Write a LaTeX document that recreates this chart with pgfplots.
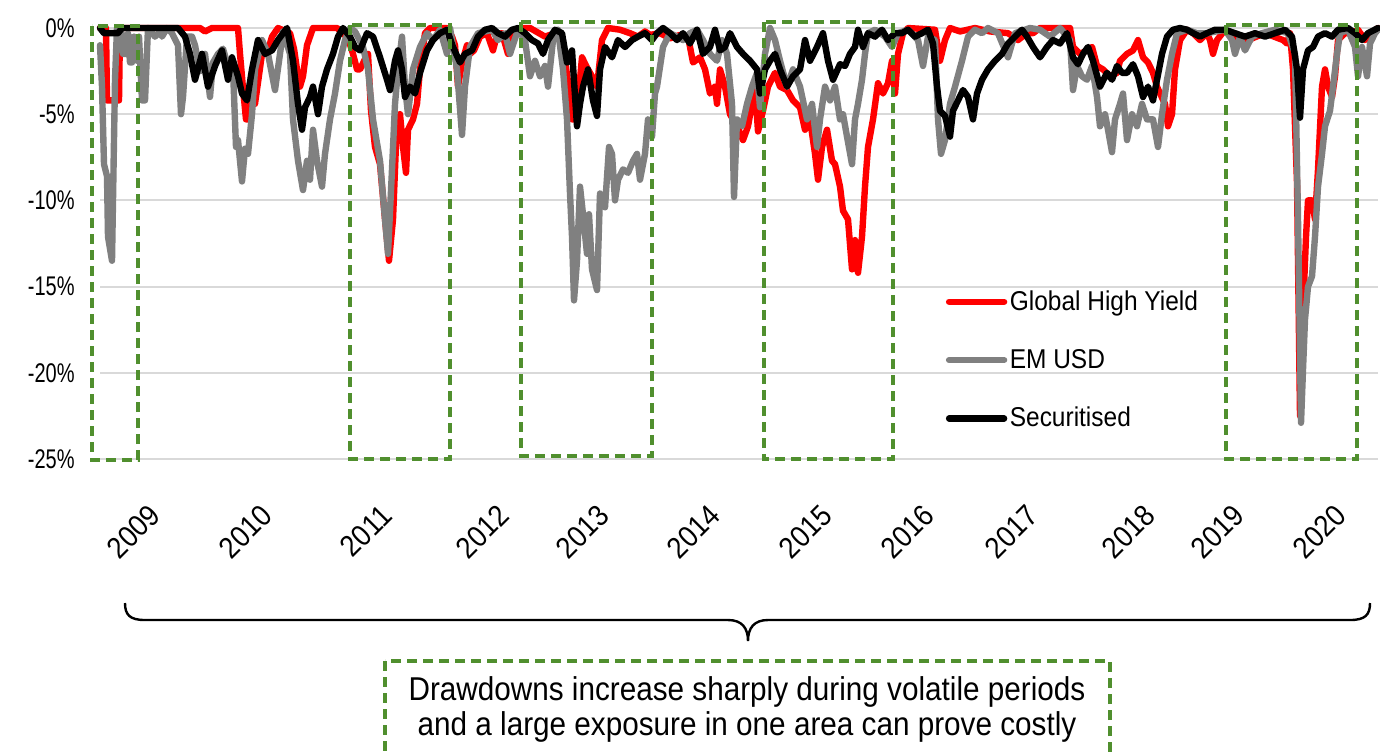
\documentclass[border=0pt]{standalone}
\usepackage{pgfplots}
\usepackage{pgfplotstable}
\pgfplotsset{compat=1.18}
\usepackage{fontspec}
\setmainfont{Liberation Sans}[FakeStretch=0.9]
\newfontfamily\numfont{Liberation Sans}[FakeStretch=0.74]
\definecolor{ghy}{RGB}{255,0,0}
\definecolor{emusd}{RGB}{128,128,128}
\definecolor{boxgreen}{RGB}{80,143,46}
\definecolor{gridc}{RGB}{217,217,217}

\pgfplotstableread{
x y
100 0
106 0
107 -4.2
119 -4.2
120 0
200 0
205 -0.2
212 0
238 0
240 -1.5
243 -3.5
246 -5.3
250 -5.3
252 -3.5
255 -4.4
262 -1.5
267 -1.5
272 -0.5
278 0
290 -0.3
294 -1.2
297 -2.4
300 -3.4
303 -2.8
307 -1.0
313 0
337 0
343 -0.3
348 -0.6
353 -1.5
357 -2.4
360 -2.4
365 -1.8
368 -1.5
371 -4.8
375 -6.9
380 -7.9
385 -11.1
389 -13.5
393 -11.1
397 -5.3
400 -5.0
403 -6.9
406 -8.4
408 -5.9
413 -5.3
417 -4.4
420 -2.4
425 -0.3
430 0
447 0
452 -0.5
455 -1.0
458 -3.4
462 -2.0
467 -1.0
470 -1.5
474 -1.3
480 -0.5
487 -0.3
493 -1.3
497 -0.4
502 -0.3
508 -1.5
512 -0.3
520 0
530 0
545 -0.5
555 -0.3
560 -0.6
565 -1.9
569 -3.5
572 -5.3
577 -5.3
580 -3.0
582 -1.7
587 -2.3
592 -2.8
597 -3.4
602 -0.7
608 0
620 -0.1
630 -0.3
638 -0.5
645 -0.2
650 -0.4
660 -0.3
670 -0.6
680 -0.4
688 -0.5
693 -2.0
700 -1.7
705 -2.4
710 -3.8
715 -3.4
717 -4.4
720 -2.4
725 -3.4
730 -5.0
737 -5.7
743 -6.5
748 -5.7
752 -4.4
755 -3.4
758 -6.0
763 -4.8
768 -3.4
775 -2.6
780 -3.4
787 -3.6
793 -4.2
800 -4.6
805 -5.9
810 -5.3
815 -7.3
818 -8.8
822 -6.9
827 -5.9
832 -7.7
835 -7.9
840 -9.2
843 -10.6
848 -11.1
852 -14.0
855 -12.3
858 -14.2
862 -12.1
865 -9.2
868 -6.9
873 -5.3
878 -3.2
883 -3.8
888 -3.2
892 -1.9
895 -3.8
898 -1.5
903 -0.3
908 0
935 -0.1
940 -1.9
945 -0.7
950 0
960 -0.2
975 0
990 -0.2
1008 -0.3
1018 -0.7
1027 -0.3
1033 -0.3
1040 0
1070 0
1073 -1.1
1080 -1.5
1087 -1.3
1092 -1.1
1097 -2.2
1103 -2.4
1110 -2.8
1117 -2.6
1120 -1.9
1127 -1.5
1133 -1.3
1138 -0.7
1143 -1.7
1148 -2.0
1153 -2.6
1157 -3.4
1160 -3.8
1165 -4.4
1168 -5.7
1172 -5.0
1175 -2.4
1180 -0.7
1187 -0.1
1193 -0.3
1200 -0.7
1207 -0.3
1210 -0.7
1213 -1.5
1217 -0.7
1225 -0.1
1235 -0.5
1248 -0.7
1265 -0.3
1283 -0.7
1287 -0.9
1290 -0.3
1293 -2.4
1297 -9.0
1300 -22.5
1302 -19.0
1304 -15.0
1306 -12.1
1308 -10.0
1312 -10.0
1315 -11.1
1318 -8.2
1322 -3.4
1325 -2.4
1328 -3.4
1332 -4.0
1335 -2.8
1338 -0.7
1345 -0.3
1352 -0.3
1358 -0.1
1365 -0.7
1372 -0.3
1378 0
}\ghydata

\pgfplotstableread{
x y
100 -1.0
102 -3.4
104 -7.9
107 -8.6
108 -12.1
112 -13.5
113 -10.0
115 -3.0
117 0
121 0
123 -1.5
127 -1.5
128 -0.3
130 -2.0
132 -2.0
134 -0.5
137 -1.9
139 -0.5
142 -4.2
145 -4.2
148 0
155 -0.5
160 -0.2
162 -0.5
167 0
172 -0.3
178 -1.0
181 -5.0
183 -4.0
187 -0.5
192 -0.5
195 -1.0
200 -2.5
205 -1.5
210 -4.0
213 -2.0
218 -1.5
223 -1.2
228 -2.2
233 -2.4
236 -6.9
238 -6.5
242 -8.9
245 -7.0
248 -7.3
252 -5.0
255 -2.4
262 -0.7
268 -1.5
275 -3.6
280 -1.5
283 -0.2
290 -1.5
293 -5.3
298 -7.7
303 -9.4
307 -7.7
310 -8.8
313 -5.9
317 -7.7
322 -9.2
325 -7.3
330 -5.3
335 -3.8
340 -1.9
345 -0.7
350 0
355 -0.2
363 -1.1
368 -2.4
373 -5.3
380 -7.7
385 -11.1
388 -13.1
392 -8.2
395 -4.4
398 -2.4
402 -0.5
405 -3.4
408 -5.0
413 -2.4
420 -1.1
427 -0.3
433 -0.7
440 -0.1
447 -1.5
450 0
457 -2.4
462 -6.2
465 -3.4
470 -1.1
478 -0.3
492 -0.1
498 -0.7
505 -0.3
510 -1.5
518 -0.1
525 -0.7
530 -2.8
535 -1.9
540 -2.8
545 -2.2
548 -3.4
553 -0.7
558 -0.1
563 -2.4
567 -5.3
570 -9.6
572 -12.1
574 -15.8
577 -13.5
580 -9.2
583 -10.8
587 -13.1
589 -10.8
592 -14.0
597 -15.2
600 -9.6
605 -10.4
609 -6.9
612 -7.3
615 -10.0
618 -8.8
623 -8.2
628 -8.4
633 -7.7
637 -7.3
640 -8.8
645 -7.3
648 -5.3
652 -6.3
655 -3.8
657 -3.4
663 -1.1
670 -0.3
677 -0.5
683 -0.7
690 -0.3
697 -0.1
703 -0.7
710 -1.5
717 -1.9
722 -0.7
727 -1.5
732 -4.4
734 -9.8
737 -5.3
742 -5.7
747 -4.4
752 -3.4
757 -2.6
760 -4.6
765 -1.5
770 0
775 -0.7
780 -1.9
787 -3.4
793 -2.4
800 -3.4
807 -5.3
812 -4.4
817 -6.9
820 -5.3
825 -3.4
830 -4.2
835 -3.4
840 -5.3
843 -5.0
847 -6.3
852 -7.9
855 -5.3
858 -4.4
862 -3.0
865 -1.5
868 -0.3
875 -0.1
885 -0.5
892 -1.1
898 -0.3
908 -0.1
918 -0.7
923 -2.2
928 -0.5
935 -0.7
938 -5.3
941 -7.3
945 -6.5
950 -4.4
955 -3.4
962 -1.9
968 -0.5
975 -0.1
982 -0.3
988 0
998 -0.3
1008 -1.7
1015 -0.3
1025 -0.1
1030 0
1040 -0.1
1050 -0.5
1060 0
1070 -0.7
1073 -3.6
1077 -2.2
1082 -2.8
1087 -3.0
1092 -2.2
1097 -4.0
1100 -5.7
1105 -5.0
1108 -5.9
1112 -7.2
1115 -5.3
1120 -4.4
1123 -3.8
1127 -6.5
1132 -5.0
1137 -5.7
1142 -4.4
1147 -5.3
1153 -5.3
1158 -6.9
1162 -5.0
1167 -3.0
1172 -1.5
1177 -0.3
1187 -0.1
1197 -0.3
1207 -0.3
1225 -0.1
1232 -0.7
1235 -1.5
1240 -0.5
1245 -1.3
1252 -0.5
1262 -0.3
1275 -0.1
1288 -0.3
1295 -1.5
1298 -11.1
1301 -22.9
1303 -19.8
1305 -16.9
1308 -15.0
1312 -14.4
1315 -12.1
1318 -9.2
1322 -7.3
1325 -5.7
1330 -4.8
1333 -3.4
1337 -1.5
1340 -0.3
1348 -0.1
1355 -1.1
1358 -2.8
1362 -1.1
1367 -2.8
1370 -0.9
1375 -0.3
1378 -0.1
}\emdata

\pgfplotstableread{
x y
100 0
104 -0.3
118 -0.3
122 0
178 0
185 -0.5
190 -1.5
195 -3.0
202 -1.5
208 -3.4
215 -2.2
222 -1.3
228 -3.0
232 -1.7
238 -2.8
242 -3.8
247 -4.2
252 -2.4
258 -0.7
265 -1.5
272 -1.3
278 -0.7
287 0
293 -1.9
298 -4.4
302 -5.9
305 -4.6
310 -4.0
313 -3.4
318 -5.0
322 -3.4
327 -2.4
333 -1.5
338 -0.5
343 0
350 -0.5
355 -1.1
360 -1.3
367 -0.3
373 -0.5
380 -1.7
387 -3.0
390 -3.6
395 -1.9
398 -1.3
402 -2.4
405 -4.0
410 -3.4
415 -3.8
420 -2.6
427 -1.3
433 -0.7
440 -0.3
447 -0.1
453 -1.1
460 -2.0
465 -1.5
472 -1.3
478 -0.5
485 -0.1
492 0
498 -0.3
505 -0.5
512 -0.1
518 0
525 -0.3
532 -0.7
538 -0.9
543 -1.5
548 -0.7
555 -0.1
562 -0.3
567 -2.0
572 -1.3
577 -5.7
580 -4.4
583 -3.4
588 -2.4
593 -4.2
597 -5.1
600 -2.4
605 -1.1
612 -1.7
618 -0.7
625 -1.1
632 -0.7
638 -0.5
645 -0.3
652 -0.7
657 -0.3
663 0
670 -0.3
677 -0.7
683 -0.3
690 -0.9
697 -0.1
703 -1.5
710 -1.1
715 -0.1
720 -1.3
725 -1.1
730 -0.3
737 -1.1
743 -1.5
750 -1.9
757 -2.4
760 -3.8
765 -2.4
770 -1.9
775 -1.5
780 -2.4
787 -3.4
793 -2.8
800 -2.4
805 -0.7
810 -1.9
817 -1.1
823 -0.3
828 -1.9
833 -3.0
840 -2.1
845 -2.2
850 -1.5
855 -1.1
858 -0.1
863 -1.1
868 -0.3
875 -0.5
882 -0.1
888 -0.7
895 -0.3
902 -0.3
908 -0.1
915 -0.5
922 -0.3
928 -0.1
933 -0.9
937 -3.4
940 -4.8
945 -5.1
950 -6.3
953 -4.8
958 -4.2
963 -3.6
968 -4.0
973 -5.3
977 -3.8
982 -3.0
988 -2.4
995 -1.9
1002 -1.5
1008 -0.9
1015 -0.5
1022 -0.1
1027 -0.5
1033 -1.1
1040 -1.7
1047 -1.1
1053 -0.7
1060 -0.9
1067 -0.3
1073 -1.7
1078 -2.1
1083 -1.5
1088 -1.1
1093 -1.9
1100 -3.4
1107 -2.6
1112 -3.0
1117 -2.2
1122 -2.6
1127 -2.6
1133 -2.1
1138 -2.8
1143 -4.0
1148 -3.4
1153 -4.2
1157 -3.0
1162 -1.5
1167 -0.5
1173 -0.1
1180 0
1187 -0.1
1193 -0.3
1200 -0.5
1207 -0.3
1215 -0.1
1225 -0.1
1235 -0.3
1245 -0.5
1255 -0.3
1265 -0.5
1275 -0.3
1285 -0.1
1292 -0.5
1297 -2.4
1300 -5.2
1303 -2.4
1308 -1.3
1313 -1.1
1318 -0.5
1325 -0.3
1332 -0.5
1338 -0.1
1348 0
1355 -0.3
1362 -0.7
1368 -0.3
1378 0
}\secdata

\begin{document}
\begin{tikzpicture}
\path[use as bounding box] (0,0) rectangle (690pt,-375.5pt);
\begin{axis}[
  at={(50pt,-229.5pt)}, anchor=south west,
  scale only axis, width=639pt, height=215.5pt,
  xmin=100, xmax=1378, ymin=-25, ymax=0,
  clip=false,
  axis line style={draw=none},
  tick style={draw=none},
  ymajorgrids, grid style={gridc, line width=1pt},
  ytick={-25,-20,-15,-10,-5,0},
  yticklabels={-25\%,-20\%,-15\%,-10\%,-5\%,0\%},
  xtick={155,267,387,504,604,715,827,929,1033,1150,1239,1341},
  xticklabels={2009,2010,2011,2012,2013,2014,2015,2016,2017,2018,2019,2020},
  xticklabel style={yshift=-25.5pt, rotate=45, anchor=east, inner sep=0pt, font=\fontsize{15}{17}\selectfont},
  yticklabel style={anchor=east, inner sep=0pt, xshift=-12.5pt, font=\numfont\fontsize{13.5}{16}\selectfont},
  legend image code/.code={\draw[#1] (0pt,0pt) -- (27.5pt,0pt);},
  legend style={draw=none, fill=none, inner sep=0pt,
    at={(axis cs:945.5,-19.26)}, anchor=west, row sep=15.5pt,
    nodes={inner sep=1.25pt}, font=\fontsize{13.6}{16}\selectfont},
  legend cell align=left,
]
\addplot[ghy, line width=3.2pt, line join=round, line cap=round] table[x=x,y=y] {\ghydata};
\addlegendentry{Global High Yield}
\addplot[emusd, line width=3.2pt, line join=round, line cap=round] table[x=x,y=y] {\emdata};
\addlegendentry{EM USD}
\addplot[black, line width=3.2pt, line join=round, line cap=round] table[x=x,y=y] {\secdata};
\addlegendentry{Securitised}
\end{axis}
\begin{scope}[x=0.5pt,y=-0.5pt]
\tikzset{gbox/.style={boxgreen, line width=1.6pt, dash pattern=on 5pt off 3pt}}
\draw[gbox] (92,26) rectangle (138,460);
\draw[gbox] (350,25) rectangle (450,459);
\draw[gbox] (521,22) rectangle (652,456);
\draw[gbox] (764,22) rectangle (893,459);
\draw[gbox] (1226,25) rectangle (1357,459);
\draw[line width=1.2pt] (125,603) .. controls (125,615) and (130,620) .. (145,620) -- (728,620) .. controls (742,620) and (748,628) .. (748,641) .. controls (748,628) and (754,620) .. (768,620) -- (1350,620) .. controls (1365,620) and (1370,615) .. (1370,603);
\draw[gbox] (385,661) rectangle (1110,800);
\node[align=center, font=\fontsize{16.5}{17.5}\selectfont] at (747,709) {Drawdowns increase sharply during volatile periods\\and a large exposure in one area can prove costly};
\end{scope}
\end{tikzpicture}
\end{document}
